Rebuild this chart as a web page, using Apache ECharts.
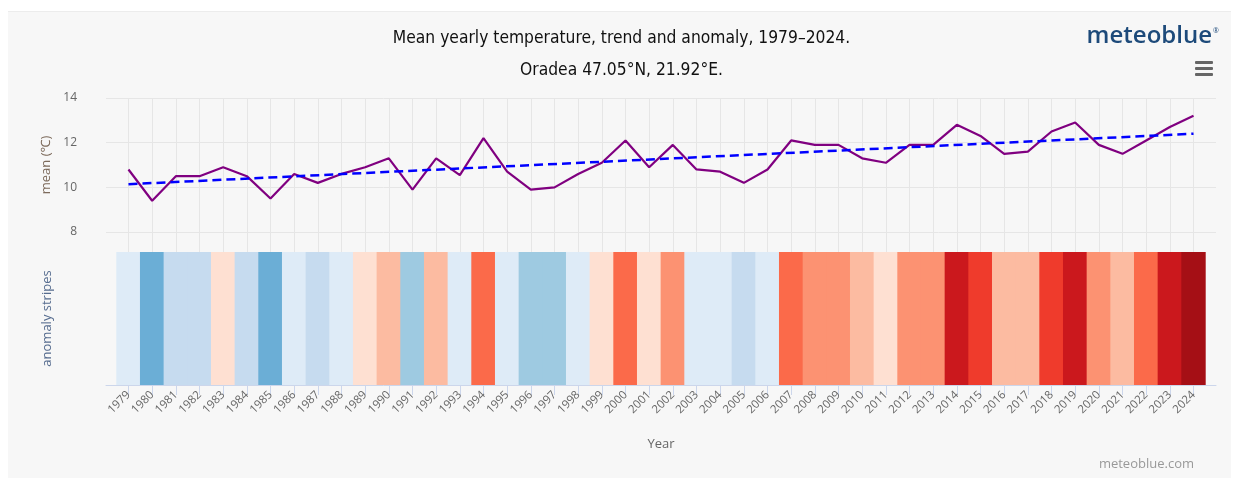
<!DOCTYPE html>
<html>
<head>
<meta charset="utf-8">
<title>Mean yearly temperature</title>
<script src="https://cdn.jsdelivr.net/npm/echarts@6/dist/echarts.min.js"></script>
<style>
  html, body { margin: 0; padding: 0; background: #fff; }
  .chart-card { position: relative; width: 1243px; height: 478px; }
  .chart-bg { position: absolute; left: 8px; top: 11px; width: 1223px; height: 467px; background: #f7f7f7; border-top: 1px solid #ececec; }
  .chart-container { position: absolute; left: 0; top: 0; width: 1243px; height: 478px; }
</style>
</head>
<body>
<div class="chart-card">
  <div class="chart-bg"></div>
  <div class="chart-container" id="chart"></div>
</div>
<script>
// years on the x axis
const years = [
  '1979', '1980', '1981', '1982', '1983', '1984', '1985', '1986', '1987', '1988',
  '1989', '1990', '1991', '1992', '1993', '1994', '1995', '1996', '1997', '1998',
  '1999', '2000', '2001', '2002', '2003', '2004', '2005', '2006', '2007', '2008',
  '2009', '2010', '2011', '2012', '2013', '2014', '2015', '2016', '2017', '2018',
  '2019', '2020', '2021', '2022', '2023', '2024'
]

// mean yearly temperature (°C)
const meanTemp = [
  10.8, 9.4, 10.5, 10.5, 10.9, 10.5, 9.5, 10.6, 10.2, 10.6,
  10.9, 11.3, 9.9, 11.3, 10.55, 12.2, 10.7, 9.9, 10.0, 10.6,
  11.1, 12.1, 10.9, 11.9, 10.8, 10.7, 10.2, 10.8, 12.1, 11.9,
  11.9, 11.3, 11.1, 11.9, 11.9, 12.8, 12.3, 11.5, 11.6, 12.5,
  12.9, 11.9, 11.5, 12.1, 12.7, 13.2
]

// linear trend, value at first and last year
const trendEnds = [10.14, 12.40]

// y axis ticks of the temperature pane
const tempTicks = [8, 10, 12, 14]

const fontFamily = '"Open Sans", "Noto Sans", sans-serif'
const titleFont = '"DejaVu Sans Condensed", "Liberation Sans Narrow", "DejaVu Sans", sans-serif'

const idx = years.map((y, i) => i)
const last = years.length - 1

// shared x axis settings for the three stacked panes
const xBase = (gridIndex) => ({
  type: 'value',
  gridIndex,
  min: -0.95,
  max: last + 0.95,
  axisTick: { show: false, customValues: idx },
  axisLabel: { show: false, customValues: idx },
  axisLine: { show: false },
  splitLine: { show: true, lineStyle: { color: '#e6e6e6', width: 1 } }
})

const chart = echarts.init(document.getElementById('chart'))

const option = {
  backgroundColor: 'transparent',
  animation: false,
  title: [
    {
      text: 'Mean yearly temperature, trend and anomaly, 1979–2024.',
      left: 'center',
      top: 25,
      textStyle: { color: '#111', fontSize: 17.3, fontWeight: 'normal', fontFamily: titleFont }
    },
    {
      text: 'Oradea 47.05°N, 21.92°E.',
      left: 'center',
      top: 57,
      textStyle: { color: '#111', fontSize: 17.3, fontWeight: 'normal', fontFamily: titleFont }
    }
  ],
  grid: [
    { left: 106, right: 27, top: 98, height: 134 },
    { left: 106, right: 27, top: 232, height: 20 },
    { left: 106, right: 27, top: 252, height: 133 }
  ],
  xAxis: [
    xBase(0),
    xBase(1),
    {
      ...xBase(2),
      splitLine: { show: false },
      axisLine: { show: true, lineStyle: { color: '#ccd6eb' } },
      axisTick: { show: true, customValues: idx, length: 10, lineStyle: { color: '#ccd6eb' } },
      axisLabel: {
        show: true,
        customValues: idx,
        rotate: 45,
        margin: 8,
        color: '#666',
        fontSize: 11.5,
        fontFamily,
        formatter: (v) => years[Math.round(v)]
      },
      name: 'Year',
      nameLocation: 'middle',
      nameGap: 53,
      nameTextStyle: { color: '#666', fontSize: 13, fontFamily }
    }
  ],
  yAxis: [
    {
      type: 'value',
      gridIndex: 0,
      min: 8,
      max: 14,
      interval: 2,
      axisLabel: { customValues: tempTicks, color: '#666', fontSize: 12, fontFamily, margin: 29 },
      axisTick: { show: false, customValues: tempTicks },
      axisLine: { show: false },
      splitLine: { lineStyle: { color: '#e6e6e6' } },
      name: 'mean (℃)',
      nameLocation: 'middle',
      nameGap: 52,
      nameTextStyle: { color: '#7d6b5c', fontSize: 13, fontFamily }
    },
    {
      type: 'value',
      gridIndex: 1,
      min: 0,
      max: 1,
      show: false
    },
    {
      type: 'value',
      gridIndex: 2,
      min: 0,
      max: 1,
      axisLabel: { show: false },
      axisTick: { show: false },
      axisLine: { show: false },
      splitLine: { show: false },
      name: 'anomaly stripes',
      nameLocation: 'middle',
      nameGap: 52,
      nameTextStyle: { color: '#566c8f', fontSize: 13, fontFamily }
    }
  ],
  // stripe colour by yearly mean
  visualMap: {
    type: 'piecewise',
    show: false,
    seriesIndex: 2,
    dimension: 2,
    pieces: [
      { lt: 9.7, color: '#6baed6' },
      { gte: 9.7, lt: 10.1, color: '#9ecae1' },
      { gte: 10.1, lt: 10.52, color: '#c6dbef' },
      { gte: 10.52, lt: 10.85, color: '#deebf7' },
      { gte: 10.85, lt: 11.2, color: '#fee0d2' },
      { gte: 11.2, lt: 11.7, color: '#fcbba1' },
      { gte: 11.7, lt: 12.0, color: '#fc9272' },
      { gte: 12.0, lt: 12.25, color: '#fb6a4a' },
      { gte: 12.25, lt: 12.6, color: '#ef3b2c' },
      { gte: 12.6, lt: 13.0, color: '#cb181d' },
      { gte: 13.0, color: '#a50f15' }
    ]
  },
  graphic: [
    {
      type: 'text',
      right: 31,
      top: 24,
      style: { text: 'meteoblue', fill: '#1d4a7a', font: '600 24px "Open Sans", sans-serif' }
    },
    {
      type: 'text',
      left: 1213,
      top: 27,
      style: { text: '®', fill: '#1d4a7a', font: '7px "Open Sans", sans-serif' }
    },
    // menu button
    { type: 'rect', left: 1195, top: 61, shape: { width: 18, height: 3, r: 1 }, style: { fill: '#666' } },
    { type: 'rect', left: 1195, top: 67, shape: { width: 18, height: 3, r: 1 }, style: { fill: '#666' } },
    { type: 'rect', left: 1195, top: 73, shape: { width: 18, height: 3, r: 1 }, style: { fill: '#666' } },
    {
      type: 'text',
      right: 49,
      top: 458,
      style: { text: 'meteoblue.com', fill: '#999', font: '13px "Open Sans", sans-serif' }
    }
  ],
  series: [
    {
      name: 'mean',
      type: 'line',
      xAxisIndex: 0,
      yAxisIndex: 0,
      symbol: 'none',
      data: meanTemp.map((v, i) => [i, v]),
      lineStyle: { color: '#800080', width: 2.2 },
      z: 3
    },
    {
      name: 'trend',
      type: 'line',
      xAxisIndex: 0,
      yAxisIndex: 0,
      symbol: 'none',
      data: [[0, trendEnds[0]], [last, trendEnds[1]]],
      lineStyle: { color: '#0000ff', width: 2.5, type: [9, 5] },
      z: 4
    },
    {
      name: 'anomaly',
      type: 'bar',
      xAxisIndex: 2,
      yAxisIndex: 2,
      barWidth: '103%',
      data: meanTemp.map((v, i) => [i, 1, v]),
      encode: { x: 0, y: 1 }
    }
  ]
}

chart.setOption(option)
</script>
</body>
</html>
